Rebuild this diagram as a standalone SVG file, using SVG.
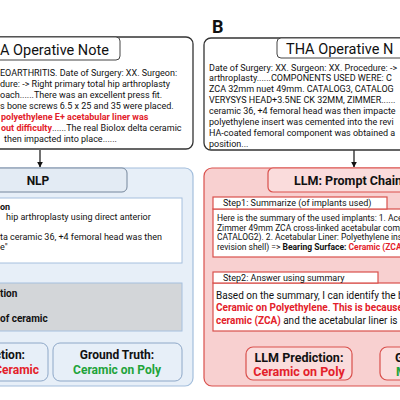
<svg xmlns="http://www.w3.org/2000/svg" width="400" height="400" viewBox="0 0 400 400">
<defs>
<marker id="ah" viewBox="0 0 10 10" refX="9" refY="5" markerWidth="5" markerHeight="5" orient="auto"><path d="M0,0 L10,5 L0,10 z" fill="#111"/></marker>
<style>
text{font-family:Roboto,"Liberation Sans",sans-serif;fill:#111}
.note{fill:#fff;stroke:#333;stroke-width:1.3}
.tab{fill:#fff;stroke:#444;stroke-width:1}
.title{font-size:14.5px}
.body{font-size:9px}
.b{font-weight:bold}
.red{fill:#e3212a;font-weight:bold}
.green{fill:#21a33a;font-weight:bold}
.bluepanel{fill:#e7eff8;stroke:#a3bedc;stroke-width:1.2}
.bluetab{fill:#e3ebf4;stroke:#75869c;stroke-width:1}
.bluebox{fill:#e7eff8;stroke:#8ea8c8;stroke-width:1}
.whitebox{fill:#fff;stroke:#a6c0de;stroke-width:1}
.graybox{fill:#d3d6d9;stroke:#a6c0de;stroke-width:1}
.redpanel{fill:#f8d0d0;stroke:#d9504c;stroke-width:1.2}
.redtab{fill:#fadcdc;stroke:#d9504c;stroke-width:1.2}
.redbox{fill:#fff;stroke:#d9504c;stroke-width:1.2}
.conn{stroke:#111;stroke-width:1.2;fill:none;marker-end:url(#ah)}
</style>
</defs>

<g id="connectors">
<line class="conn" x1="40" y1="150" x2="40" y2="167"/>
<line class="conn" x1="354" y1="150" x2="354" y2="167"/>
<line class="conn" x1="40" y1="264" x2="40" y2="282"/>
<line class="conn" x1="354" y1="257" x2="354" y2="271"/>
<line class="conn" x1="299" y1="331" x2="299" y2="346"/>
</g>

<g id="label-b"><text x="212" y="33" font-size="18" class="b">B</text></g>

<g id="note-a">
<rect class="note" x="-100" y="37" width="293" height="112" rx="7"/>
<rect class="tab" x="-25" y="37" width="145" height="23" rx="4"/>
<text class="title" x="0" y="55">A Operative Note</text>
<text class="body" x="0" y="75.5">EOARTHRITIS. Date of Surgery: XX. Surgeon:</text>
<text class="body" x="0" y="86.5">dure: -&gt; Right primary total hip arthroplasty</text>
<text class="body" x="0" y="97.5">oach......There was an excellent press fit.</text>
<text class="body" x="0" y="108.5">s bone screws 6.5 x 25 and 35 were placed.</text>
<text class="body red" x="1" y="119.5">polyethylene E+ acetabular liner was</text>
<text class="body" x="1" y="130.5"><tspan class="red">out  difficulty</tspan>......The real Biolox delta ceramic</text>
<text class="body" x="4" y="141.5">then  impacted into place......</text>
</g>

<g id="note-b">
<rect class="note" x="204" y="38" width="300" height="112" rx="7"/>
<rect class="tab" x="277" y="38" width="145" height="20" rx="4"/>
<text class="title" x="286" y="54">THA Operative N</text>
<text class="body" x="209" y="70.5">Date of Surgery: XX. Surgeon: XX. Procedure: -&gt;</text>
<text class="body" x="209" y="81.4">arthroplasty......COMPONENTS USED WERE:  C</text>
<text class="body" x="209" y="92.3">ZCA 32mm nuet 49mm.  CATALOG3, CATALOG</text>
<text class="body" x="209" y="103.2">VERYSYS HEAD+3.5NE CK 32MM, ZIMMER......</text>
<text class="body" x="209" y="114.1">ceramic 36, +4  femoral head was then  impacte</text>
<text class="body" x="209" y="125">polyethylene insert was cemented  into the revi</text>
<text class="body" x="209" y="135.9">HA-coated femoral component was obtained a</text>
<text class="body" x="209" y="146.8">position...</text>
</g>

<g id="nlp-panel">
<rect class="bluepanel" x="-100" y="168" width="293" height="218" rx="8"/>
<rect class="bluetab" x="-40" y="168" width="167" height="24" rx="5"/>
<text x="38" y="185" font-size="12" class="b" text-anchor="middle">NLP</text>
</g>

<g id="nlp-extraction">
<rect class="whitebox" x="-20" y="198" width="202" height="65"/>
<text class="body b" x="0" y="210">on</text>
<text class="body" x="6" y="220">hip arthroplasty using direct anterior</text>
<text class="body" x="0" y="240">ta ceramic 36, +4  femoral head was then</text>
<text class="body" x="0" y="250">e"</text>
</g>

<g id="nlp-classification">
<rect class="graybox" x="-20" y="283" width="202" height="48"/>
<text x="0" y="297" font-size="10" class="b">tion</text>
<text x="0" y="322" font-size="10" class="b">of ceramic</text>
</g>

<g id="nlp-prediction">
<rect class="bluebox" x="-60" y="343" width="108" height="38" rx="7"/>
<text x="25" y="359" font-size="12" class="b" text-anchor="end">ction:</text>
<text x="39" y="374" font-size="12" class="red" text-anchor="end">Ceramic</text>
</g>

<g id="nlp-truth">
<rect class="bluebox" x="53" y="343" width="129" height="38" rx="7"/>
<text x="117" y="359" font-size="12" class="b" text-anchor="middle">Ground Truth:</text>
<text x="117" y="374" font-size="12" class="green" text-anchor="middle">Ceramic on Poly</text>
</g>

<g id="llm-panel">
<rect class="redpanel" x="204" y="168" width="300" height="218" rx="8"/>
<rect class="redtab" x="268" y="168" width="160" height="24" rx="5"/>
<text x="294" y="185" font-size="12.5" class="b">LLM: Prompt Chain</text>
</g>

<g id="step1">
<rect class="redbox" x="213" y="209" width="210" height="48"/>
<rect class="redbox" x="213" y="197" width="174" height="12"/>
<text class="body" x="223" y="206">Step1: Summarize (of implants used)</text>
<text x="217" y="221" font-size="8.5">Here is the summary of the used implants: 1. Ace</text>
<text x="217" y="230.5" font-size="8.5">Zimmer 49mm ZCA cross-linked acetabular comp</text>
<text x="217" y="240" font-size="8.5">CATALOG2). 2. Acetabular Liner: Polyethylene ins</text>
<text x="217" y="250" font-size="8.5">revision shell) =&gt; <tspan class="b">Bearing Surface:</tspan>  <tspan class="red">Ceramic (ZCA)</tspan></text>
</g>

<g id="step2">
<rect class="redbox" x="213" y="283" width="210" height="48"/>
<rect class="redbox" x="213" y="272" width="165" height="11"/>
<text class="body" x="223" y="280.5">Step2: Answer using summary</text>
<text x="216" y="298.5" font-size="10">Based on the summary, I can identify the b</text>
<text x="216" y="311" font-size="10"><tspan class="red">Ceramic on Polyethylene</tspan>. <tspan class="red">This is because</tspan></text>
<text x="216" y="324" font-size="10"><tspan class="red">ceramic (ZCA)</tspan> and the acetabular liner is</text>
</g>

<g id="llm-prediction">
<rect class="redtab" x="246" y="347" width="106" height="33" rx="7"/>
<text x="299" y="362" font-size="12.5" class="b" text-anchor="middle">LLM Prediction:</text>
<text x="299" y="376" font-size="12.5" class="red" text-anchor="middle">Ceramic on Poly</text>
</g>

<g id="llm-truth">
<rect class="redtab" x="380" y="347" width="100" height="33" rx="7"/>
<text x="395" y="362" font-size="12.5" class="b">Ground Truth:</text>
<text x="396" y="376" font-size="12.5" class="green">M</text>
</g>
</svg>
